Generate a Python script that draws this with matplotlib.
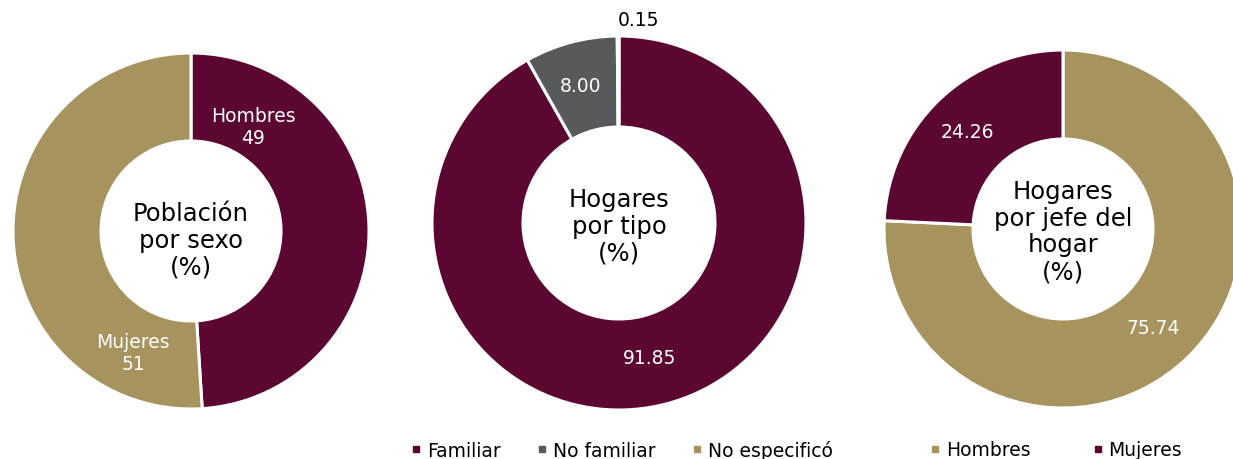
import matplotlib

matplotlib.use("Agg")
import matplotlib.pyplot as plt  # noqa: E402
from matplotlib.lines import Line2D  # noqa: E402

MAROON = "#5C0632"
TAN = "#A6935E"
GRAY = "#58595B"

# data
sexo_labels = ["Hombres", "Mujeres"]
sexo_values = [49, 51]

tipo_labels = ["Familiar", "No familiar", "No especificó"]
tipo_values = [91.85, 8.00, 0.15]

jefe_labels = ["Hombres", "Mujeres"]
jefe_values = [75.74, 24.26]

W, H = 1233, 460


def py(y):
    # image row -> data y (origin at bottom)
    return H - y


def main() -> None:
    plt.rcParams["font.family"] = ["DejaVu Sans"]
    fig = plt.figure(figsize=(W / 100, H / 100), dpi=100)
    ax = fig.add_axes([0, 0, 1, 1])
    wp = dict(edgecolor="white", linewidth=2.2)

    # donut 1: poblacion por sexo
    ax.pie(sexo_values, colors=[MAROON, TAN], startangle=90, counterclock=False,
           center=(191, py(232)), radius=178, wedgeprops=dict(width=88, **wp))
    # donut 2: hogares por tipo
    ax.pie(tipo_values, colors=[MAROON, GRAY, TAN], startangle=90, counterclock=False,
           center=(619, py(224)), radius=187, wedgeprops=dict(width=91, **wp))
    # donut 3: hogares por jefe del hogar
    ax.pie(jefe_values, colors=[TAN, MAROON], startangle=90, counterclock=False,
           center=(1063, py(230)), radius=179, wedgeprops=dict(width=89, **wp))

    ax.set_xlim(0, W)
    ax.set_ylim(0, H)
    ax.set_aspect("equal")
    ax.axis("off")

    # centre titles
    tkw = dict(ha="center", va="center", fontsize=17.5, color="black", linespacing=1.15)
    ax.text(191, py(241), "Población\npor sexo\n(%)", **tkw)
    ax.text(619, py(227), "Hogares\npor tipo\n(%)", **tkw)
    ax.text(1063, py(232), "Hogares\npor jefe del\nhogar\n(%)", **tkw)

    # slice labels
    lkw = dict(ha="center", va="center", fontsize=13.5, color="white", linespacing=1.2)
    ax.text(253, py(128), f"{sexo_labels[0]}\n{sexo_values[0]}", **lkw)
    ax.text(133, py(354), f"{sexo_labels[1]}\n{sexo_values[1]}", **lkw)
    ax.text(650, py(359), f"{tipo_values[0]:.2f}", **lkw)
    ax.text(580, py(87), f"{tipo_values[1]:.2f}", **lkw)
    ax.text(638, py(20), f"{tipo_values[2]:.2f}", ha="center", va="center",
            fontsize=13.5, color="black")
    ax.text(1153, py(329), f"{jefe_values[0]:.2f}", **lkw)
    ax.text(967, py(132), f"{jefe_values[1]:.2f}", **lkw)

    # legends
    def handles(colors):
        return [Line2D([], [], marker="s", ls="", color=c, markersize=4.5) for c in colors]

    leg1 = ax.legend(handles([MAROON, GRAY, TAN]), tipo_labels, ncol=3,
                     loc="center", bbox_to_anchor=(622, py(451)),
                     bbox_transform=ax.transData, frameon=False, fontsize=13.5,
                     handlelength=0.55, handletextpad=0.3, columnspacing=1.95,
                     borderpad=0, borderaxespad=0)
    ax.add_artist(leg1)
    ax.legend(handles([TAN, MAROON]), jefe_labels, ncol=2,
              loc="center", bbox_to_anchor=(1056, py(451)),
              bbox_transform=ax.transData, frameon=False, fontsize=13.5,
              handlelength=0.55, handletextpad=0.3, columnspacing=3.3,
              borderpad=0, borderaxespad=0)

    fig.savefig("out.png", dpi=100)


if __name__ == "__main__":
    main()
